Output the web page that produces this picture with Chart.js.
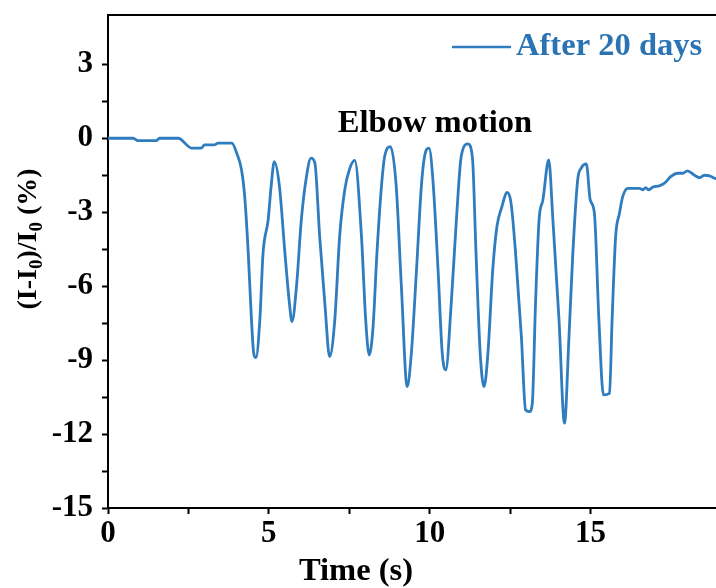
<!DOCTYPE html>
<html>
<head>
<meta charset="utf-8">
<title>Elbow motion</title>
<script src="https://cdn.jsdelivr.net/npm/chart.js@4.4.1/dist/chart.umd.min.js"></script>
<style>
    html, body { margin: 0; padding: 0; background: #fff; overflow: hidden; }
    #wrap { width: 716px; height: 588px; position: relative; }
</style>
</head>
<body>
<div id="wrap"><canvas id="chart"></canvas></div>

<script>
    // time (s)
    const times = [
        0, 0.78, 0.93, 1.5, 1.6, 2.18, 2.6, 2.9, 3.0, 3.3, 3.42, 3.85,
        4.0, 4.15, 4.25, 4.36, 4.46, 4.53, 4.6, 4.72, 4.82, 4.98, 5.07, 5.17,
        5.33, 5.5, 5.65, 5.72, 5.86, 6.01, 6.17, 6.31, 6.43,
        6.58, 6.74, 6.89, 7.05, 7.2, 7.36, 7.52, 7.67,
        7.88, 8.01, 8.12, 8.24, 8.36, 8.5, 8.6, 8.78,
        8.96, 9.12, 9.3, 9.43, 9.59, 9.74, 9.84, 9.98,
        10.1, 10.26, 10.39, 10.5, 10.67, 10.83, 10.98, 11.19, 11.33,
        11.44, 11.57, 11.69, 11.81, 11.96, 12.09, 12.23, 12.41, 12.53,
        12.67, 12.85, 12.98, 13.1, 13.19, 13.29, 13.4, 13.52, 13.7,
        13.83, 14.02, 14.19, 14.33, 14.45, 14.6, 14.71, 14.87, 14.99, 15.12,
        15.26, 15.4, 15.59, 15.67, 15.78, 15.9, 16.0, 16.16, 16.52,
        16.63, 16.71, 16.81, 16.94, 17.14, 17.3, 17.5, 17.71, 17.87, 18.01,
        18.22, 18.39, 18.54, 18.7, 18.85, 19.0
    ];
    // (I-I0)/I0 (%), after 20 days
    const response = [
        0, 0, -0.1, -0.1, 0, 0, -0.4, -0.4, -0.27, -0.27, -0.2, -0.2,
        -0.6, -1.28, -2.37, -4.66, -7.37, -8.72, -8.9, -7.37, -4.66, -3.3, -1.96, -0.95,
        -1.96, -4.66, -6.83, -7.44, -6.0, -3.3, -1.55, -0.81, -1.0,
        -3.99, -6.69, -8.86, -7.37, -3.99, -2.09, -1.21, -0.9,
        -3.99, -7.37, -8.79, -7.64, -4.66, -1.96, -0.74, -0.34,
        -1.96, -6.02, -10.08, -8.72, -5.34, -1.96, -0.74, -0.4,
        -1.69, -5.34, -8.72, -9.4, -6.69, -3.31, -0.74, -0.23, -0.81,
        -4.66, -8.72, -10.08, -8.72, -5.34, -3.58, -2.84, -2.2, -2.64,
        -4.66, -8.05, -11.02, -11.09, -10.75, -6.69, -3.31, -2.5, -0.88,
        -3.31, -7.37, -11.56, -8.05, -4.66, -1.69, -1.21, -1.04, -2.5, -3.04,
        -7.37, -10.41, -10.35, -7.37, -3.99, -3.04, -2.37, -2.03, -2.03,
        -2.09, -2.0, -2.09, -1.98, -1.93, -1.82, -1.55, -1.42, -1.42, -1.32,
        -1.49, -1.6, -1.5, -1.53, -1.62, -1.65
    ];

    const xTicks = [0, 5, 10, 15];
    const yTicks = [-15, -12, -9, -6, -3, 0, 3];
    const seriesName = 'After 20 days';
    const note = 'Elbow motion';

    const lineColor = '#2f7cbf';
    const serif = "'Liberation Serif', 'Times New Roman', serif";
    const bold = size => 'bold ' + size + 'px ' + serif;

    // text drawn a little wider, like the tick labels
    function wideText(ctx, text, x, y, align) {
        const w = ctx.measureText(text).width * 1.05;
        const left = align === 'center' ? x - w / 2 : x;
        ctx.save();
        ctx.translate(left, y);
        ctx.scale(1.05, 1);
        ctx.textAlign = 'left';
        ctx.fillText(text, 0, 0);
        ctx.restore();
    }

    // frame top edge, legend, note and axis titles
    const decorations = {
        id: 'decorations',
        afterDraw(chart) {
            const ctx = chart.ctx;
            const area = chart.chartArea;
            ctx.save();

            // top border
            ctx.strokeStyle = '#000';
            ctx.lineWidth = 2;
            ctx.beginPath();
            ctx.moveTo(area.left - 1, area.top);
            ctx.lineTo(area.right, area.top);
            ctx.stroke();

            // legend
            ctx.strokeStyle = lineColor;
            ctx.lineWidth = 2.5;
            ctx.beginPath();
            ctx.moveTo(452, 47);
            ctx.lineTo(511, 47);
            ctx.stroke();
            ctx.fillStyle = '#2b74b3';
            ctx.font = bold(31);
            ctx.textBaseline = 'middle';
            wideText(ctx, seriesName, 516, 47, 'left');

            // note
            ctx.fillStyle = '#000';
            wideText(ctx, note, 435, 124, 'center');

            // x title
            wideText(ctx, 'Time (s)', 356, 572, 'center');

            // y title with subscripts
            const parts = [
                ['(I-I', false], ['0', true], [')/I', false], ['0', true], [' (%)', false]
            ];
            const big = bold(28);
            const small = bold(19);
            let total = 0;
            parts.forEach(p => {
                ctx.font = p[1] ? small : big;
                total += ctx.measureText(p[0]).width;
            });
            ctx.translate(29, 239);
            ctx.rotate(-Math.PI / 2);
            ctx.textAlign = 'left';
            ctx.textBaseline = 'middle';
            let x = -total / 2;
            parts.forEach(p => {
                ctx.font = p[1] ? small : big;
                ctx.fillText(p[0], x, p[1] ? 8 : 0);
                x += ctx.measureText(p[0]).width;
            });
            ctx.restore();
        }
    };

    new Chart(document.getElementById('chart'), {
        type: 'line',
        data: {
            labels: times,
            datasets: [{
                label: seriesName,
                data: times.map((t, i) => ({ x: t, y: response[i] })),
                borderColor: lineColor,
                borderWidth: 2.8,
                pointRadius: 0,
                cubicInterpolationMode: 'monotone',
                fill: false
            }]
        },
        options: {
            responsive: true,
            maintainAspectRatio: false,
            animation: false,
            layout: { padding: { top: 15, right: 0, left: 0, bottom: 0 } },
            plugins: {
                legend: { display: false },
                tooltip: { enabled: false }
            },
            scales: {
                x: {
                    type: 'linear',
                    min: 0,
                    max: 18.9,
                    afterBuildTicks: s => { s.ticks = s.ticks.filter(t => Math.abs(t.value / 2.5 - Math.round(t.value / 2.5)) < 1e-6); },
                    afterFit: s => { s.height = 80; s.paddingLeft = 0; s.paddingRight = 0; },
                    ticks: {
                        stepSize: 2.5,
                        padding: 1,
                        color: '#000',
                        font: { family: serif, size: 31, weight: 'bold' },
                        callback: v => xTicks.includes(v) ? String(v) : ''
                    },
                    grid: { drawOnChartArea: false, drawTicks: true, tickLength: 6, tickWidth: 2, tickColor: '#000' },
                    border: { color: '#000', width: 2 }
                },
                y: {
                    min: -15,
                    max: 5,
                    afterBuildTicks: s => { s.ticks = s.ticks.filter(t => t.value < 4.9); },
                    afterFit: s => { s.width = 108; s.paddingTop = 0; s.paddingBottom = 0; },
                    ticks: {
                        stepSize: 1.5,
                        padding: 9,
                        color: '#000',
                        font: { family: serif, size: 31, weight: 'bold' },
                        callback: v => yTicks.includes(v) ? String(v) : ''
                    },
                    grid: { drawOnChartArea: false, drawTicks: true, tickLength: 6, tickWidth: 2, tickColor: '#000' },
                    border: { color: '#000', width: 2 }
                }
            }
        },
        plugins: [decorations]
    });
</script>
</body>
</html>
